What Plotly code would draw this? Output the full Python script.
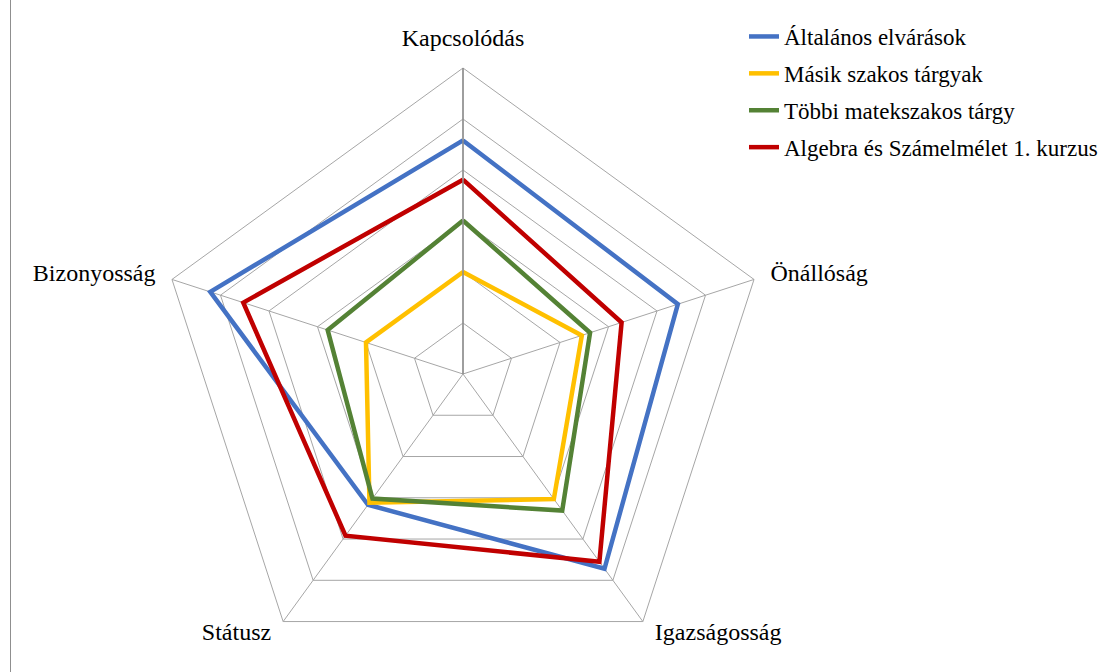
import plotly.graph_objects as go

categories = ["Kapcsolódás", "Önállóság", "Igazságosság", "Státusz", "Bizonyosság"]

series_names = [
    "Általános elvárások",
    "Másik szakos tárgyak",
    "Többi matekszakos tárgy",
    "Algebra és Számelmélet 1. kurzus",
]
altalanos = [4.58, 4.43, 4.72, 3.17, 5.21]
masik = [2.0, 2.45, 3.03, 3.12, 2.0]
tobbi = [3.01, 2.62, 3.31, 3.02, 2.79]
algebra = [3.81, 3.27, 4.55, 3.92, 4.53]
series_values = [altalanos, masik, tobbi, algebra]
series_colors = ["#4472C4", "#FFC000", "#548235", "#C00000"]

W, H = 1107, 690
cx, cy, R = 463, 374, 306
RMAX = 6
NB = "\u00a0\u00a0"

# Labels of the two lower categories are drawn as text at the outer ring,
# the others as angular-axis tick labels.
bottom_cats = categories[2:4]
bottom_text = [NB + categories[2], categories[3] + NB]
bottom_pos = ["bottom right", "bottom left"]
axis_ticktext = [c if c not in bottom_cats else "" for c in categories]

fig = go.Figure()
for i, (name, vals, col) in enumerate(zip(series_names, series_values, series_colors)):
    fig.add_trace(go.Scatterpolar(
        r=vals + vals[:1],
        theta=categories + categories[:1],
        mode="lines",
        name=name,
        legendgroup=f"g{i}",
        line=dict(color=col, width=4.5),
    ))

font_family = "Liberation Serif, Times New Roman, serif"

fig.add_trace(go.Scatterpolar(
    r=[RMAX] * len(bottom_cats),
    theta=bottom_cats,
    mode="text",
    text=bottom_text,
    textposition=bottom_pos,
    textfont=dict(family=font_family, size=24, color="black"),
    cliponaxis=False,
    showlegend=False,
    hoverinfo="skip",
))

fig.update_layout(
    width=W, height=H,
    margin=dict(l=0, r=0, t=0, b=0),
    paper_bgcolor="white",
    plot_bgcolor="white",
    showlegend=True,
    legend=dict(
        x=744 / W, y=1 - 15 / H, xanchor="left", yanchor="top",
        font=dict(family=font_family, size=23, color="black"),
        tracegroupgap=4,
        bgcolor="rgba(0,0,0,0)",
    ),
    polar=dict(
        domain=dict(x=[(cx - R) / W, (cx + R) / W], y=[1 - (cy + R) / H, 1 - (cy - R) / H]),
        bgcolor="white",
        gridshape="linear",
        radialaxis=dict(
            range=[0, RMAX], dtick=1, tick0=0,
            showticklabels=False, ticks="",
            showgrid=True, gridcolor="#a6a6a6", gridwidth=1,
            showline=True, linecolor="#8c8c8c", linewidth=1.5,
            angle=90,
        ),
        angularaxis=dict(
            direction="clockwise", rotation=90,
            categoryorder="array", categoryarray=categories,
            tickmode="array", tickvals=categories, ticktext=axis_ticktext,
            showgrid=True, gridcolor="#a6a6a6", gridwidth=1,
            showline=True, linecolor="#a6a6a6", linewidth=1,
            ticks="outside", ticklen=12, tickcolor="rgba(0,0,0,0)",
            tickfont=dict(family=font_family, size=24, color="black"),
        ),
    ),
    shapes=[dict(type="line", xref="paper", yref="paper",
                 x0=10.5 / W, x1=10.5 / W, y0=0, y1=1,
                 line=dict(color="#8f8f8f", width=1))],
)

fig.write_html("out.html", post_script="document.documentElement.style.overflow='hidden';document.body.style.overflow='hidden';")
